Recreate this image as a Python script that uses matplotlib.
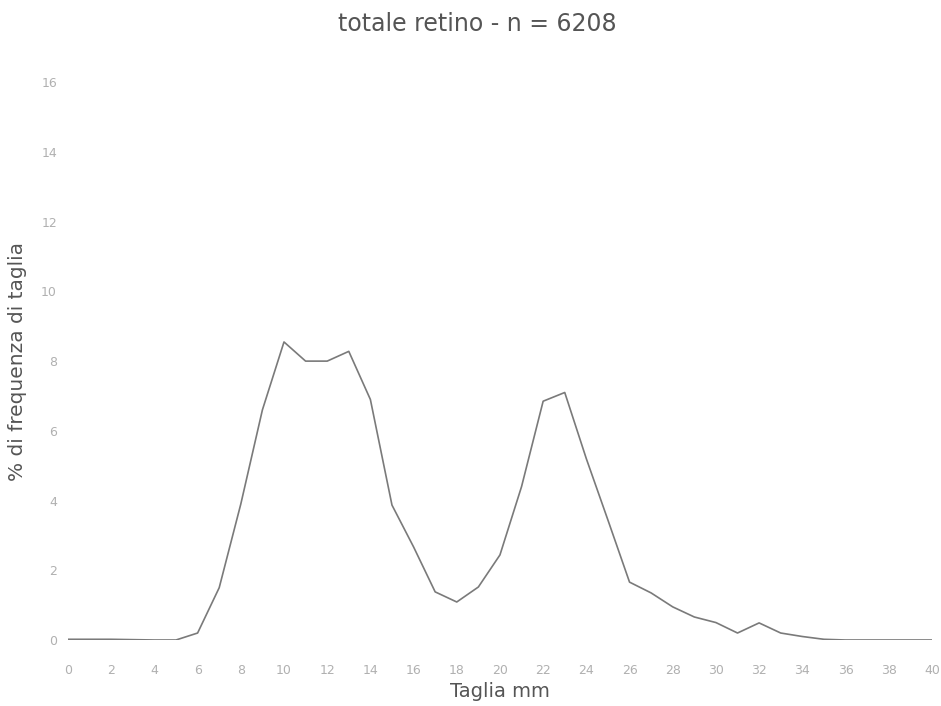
import matplotlib
matplotlib.use("Agg")
import matplotlib.pyplot as plt

plt.rcParams['font.family'] = ['DejaVu Sans']

taglia = list(range(0, 41))
freq = [0.02, 0.02, 0.02, 0.01, 0.0, 0.0, 0.2, 1.5, 3.9, 6.6, 8.55, 8.0, 8.0, 8.28, 6.9,
        3.87, 2.67, 1.38, 1.09, 1.52, 2.44, 4.4, 6.85, 7.1, 5.2, 3.44, 1.66, 1.35, 0.95,
        0.66, 0.5, 0.2, 0.49, 0.2, 0.1, 0.02, 0.0, 0.0, 0.0, 0.0, 0.0]
xticks = list(range(0, 41, 2))
yticks = list(range(0, 17, 2))

fig = plt.figure(figsize=(9.41, 7.06), dpi=100)
ax = fig.add_axes([0.0723, 0.0935, 0.918, 0.790])
ax.plot(taglia, freq, color='#7a7a7a', linewidth=1.2)
ax.set_xlim(0, 40)
ax.set_ylim(0, 16)
ax.set_xticks(xticks)
ax.set_yticks(yticks)
for s in ax.spines.values():
    s.set_visible(False)
ax.tick_params(axis='both', length=0, labelsize=9, colors='#b0b0b0')
ax.tick_params(axis='x', pad=17)
ax.tick_params(axis='y', pad=8)
ax.set_xlabel('Taglia mm', fontsize=14, color='#555555', labelpad=4)
ax.set_ylabel('% di frequenza di taglia', fontsize=14.5, color='#555555', labelpad=10)
fig.text(0.507, 0.966, 'totale retino - n = 6208', ha='center', va='center',
         fontsize=17, color='#555555')
fig.savefig('out.png', dpi=100, facecolor='white')
